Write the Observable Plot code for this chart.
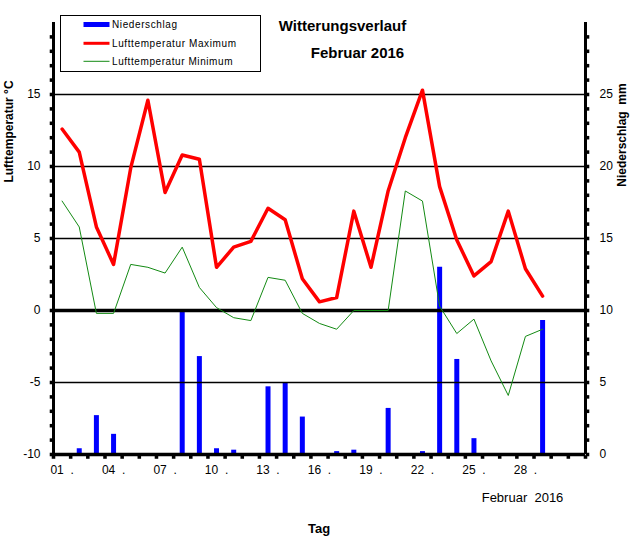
<!DOCTYPE html>
<html>
<head>
<meta charset="utf-8">
<script src="https://cdn.jsdelivr.net/npm/d3@7"></script>
<script src="https://cdn.jsdelivr.net/npm/@observablehq/plot@0.6"></script>
<style>
  html, body { margin: 0; padding: 0; background: #fff; }
  #wrap { position: relative; width: 634px; height: 542px; font-family: "Liberation Sans", Arial, sans-serif; }
  #wrap > svg.overlay { position: absolute; left: 0; top: 0; pointer-events: none; }
</style>
</head>
<body>
<div id="wrap"></div>
<script>
// ---- data ----
const days = [1,2,3,4,5,6,7,8,9,10,11,12,13,14,15,16,17,18,19,20,21,22,23,24,25,26,27,28,29];
const tempMax = [12.6,11.0,5.8,3.2,9.9,14.6,8.2,10.8,10.5,3.0,4.4,4.8,7.1,6.3,2.2,0.6,0.9,6.9,3.0,8.3,12.0,15.3,8.6,4.9,2.4,3.4,6.9,2.9,1.0];
const tempMin = [7.6,5.8,-0.2,-0.2,3.2,3.0,2.6,4.4,1.6,0.2,-0.5,-0.7,2.3,2.1,-0.2,-0.9,-1.3,0.0,0.0,0.0,8.3,7.6,0.3,-1.6,-0.6,-3.5,-5.9,-1.8,-1.3];
const precip = [0,0.4,2.7,1.4,0,0,0,10.0,6.8,0.4,0.3,0,4.7,5.0,2.6,0,0.2,0.3,0,3.2,0,0.2,13.0,6.6,1.1,0,0,0,9.3];
const xLabelDays = [1,4,7,10,13,16,19,22,25,28];
const xLabels = ["01","04","07","10","13","16","19","22","25","28"];
const tempTicks = [-10,-5,0,5,10,15];
const precipTickLabels = ["0","5","10","15","20","25"];
const minorTempTicks = [-10,-9,-8,-7,-6,-5,-4,-3,-2,-1,0,1,2,3,4,5,6,7,8,9,10,11,12,13,14,15,16,17,18,19];
const minorDayTicks = [0.5,1.5,2.5,3.5,4.5,5.5,6.5,7.5,8.5,9.5,10.5,11.5,12.5,13.5,14.5,15.5,16.5,17.5,18.5,19.5,20.5,21.5,22.5,23.5,24.5,25.5,26.5,27.5,28.5,29.5,30.5,31.5];
const gridTemps = [-5,5,10,15];
const dayDomain = [0.5, 31.5];
const tempDomain = [-10, 20];
const precipOffset = 10; // right axis: mm = °C + 10

// ---- tables ----
const temps = days.map((d,i) => ({day: d, max: tempMax[i], min: tempMin[i]}));
const rain = days.map((d,i) => ({day: d, mm: precip[i]})).filter(d => d.mm > 0);
const xLabelRows = xLabelDays.map((d,i) => ({day: d, label: xLabels[i] + "\u00a0\u00a0."}));
const rightRows = tempTicks.map((t,i) => ({t, label: precipTickLabels[i]}));

const font = "'Liberation Sans', Arial, sans-serif";
const left = () => dayDomain[0], right = () => dayDomain[1], bottom = () => tempDomain[0];

const chart = Plot.plot({
  width: 634,
  height: 542,
  marginLeft: 53,
  marginRight: 49,
  marginTop: 22,
  marginBottom: 88,
  x: {domain: dayDomain, axis: null},
  y: {domain: tempDomain, axis: null},
  style: {fontFamily: font, fontSize: "12px", color: "black", background: "white", overflow: "visible"},
  marks: [
    Plot.ruleX(rain, {x: "day", y1: bottom, y2: d => d.mm - precipOffset, stroke: "#0000ff", strokeWidth: 5}),
    Plot.ruleY(gridTemps, {stroke: "black", strokeWidth: 1.5}),
    Plot.ruleY([0], {stroke: "black", strokeWidth: 3.5}),
    Plot.line(temps, {x: "day", y: "max", stroke: "#ff0000", strokeWidth: 3.5}),
    Plot.line(temps, {x: "day", y: "min", stroke: "#138a13", strokeWidth: 1}),
    Plot.ruleX(dayDomain, {stroke: "black", strokeWidth: 3}),
    Plot.ruleY([tempDomain[0]], {stroke: "black", strokeWidth: 3.5}),
    // left axis ticks + labels
    Plot.dot(minorTempTicks, {x: left, y: d => d, symbol: "square", r: 2, fill: "black", stroke: "none", dx: -2}),
    Plot.text(tempTicks, {x: left, y: d => d, text: d => String(d), textAnchor: "end", dx: -13, fontSize: 12}),
    // right axis ticks + labels
    Plot.dot(minorTempTicks, {x: right, y: d => d, symbol: "square", r: 2, fill: "black", stroke: "none", dx: 2}),
    Plot.text(rightRows, {x: right, y: "t", text: "label", textAnchor: "start", dx: 14, fontSize: 12}),
    // bottom axis ticks + labels
    Plot.dot(minorDayTicks, {x: d => d, y: bottom, symbol: "square", r: 2, fill: "black", stroke: "none", dy: 2.5}),
    Plot.text(xLabelRows, {x: "day", y: bottom, text: "label", textAnchor: "middle", dy: 16, fontSize: 12})
  ]
});

const wrap = document.getElementById("wrap");
wrap.appendChild(chart);

// ---- overlay texts & legend ----
const NS = "http://www.w3.org/2000/svg";
const ov = document.createElementNS(NS, "svg");
ov.setAttribute("class", "overlay");
ov.setAttribute("width", 634);
ov.setAttribute("height", 542);
ov.innerHTML = `
  <g font-family="${font}" fill="black">
    <text x="342.5" y="31" text-anchor="middle" font-weight="bold" font-size="15">Witterungsverlauf</text>
    <text x="357.5" y="58" text-anchor="middle" font-weight="bold" font-size="15">Februar 2016</text>
    <rect x="60.5" y="15.5" width="200" height="56" fill="white" stroke="black" stroke-width="1"/>
    <rect x="83.5" y="22" width="26" height="5" fill="#0000ff"/>
    <line x1="83.5" x2="109.5" y1="43.3" y2="43.3" stroke="#ff0000" stroke-width="3"/>
    <line x1="83.5" x2="109.5" y1="61.3" y2="61.3" stroke="#138a13" stroke-width="1"/>
    <text x="112" y="28.3" font-size="10" textLength="65" lengthAdjust="spacing">Niederschlag</text>
    <text x="112" y="46.7" font-size="10" textLength="124" lengthAdjust="spacing">Lufttemperatur Maximum</text>
    <text x="112" y="65" font-size="10" textLength="120.5" lengthAdjust="spacing">Lufttemperatur Minimum</text>
    <text transform="translate(13,131.5) rotate(-90)" text-anchor="middle" font-weight="bold" font-size="12">Lufttemperatur °C</text>
    <text transform="translate(626,135) rotate(-90)" text-anchor="middle" font-weight="bold" font-size="12">Niederschlag\u00a0\u00a0mm</text>
    <text x="481.7" y="501.7" font-size="13">Februar\u00a0\u00a02016</text>
    <text x="308" y="533" font-weight="bold" font-size="13">Tag</text>
  </g>`;
wrap.appendChild(ov);
</script>
</body>
</html>
